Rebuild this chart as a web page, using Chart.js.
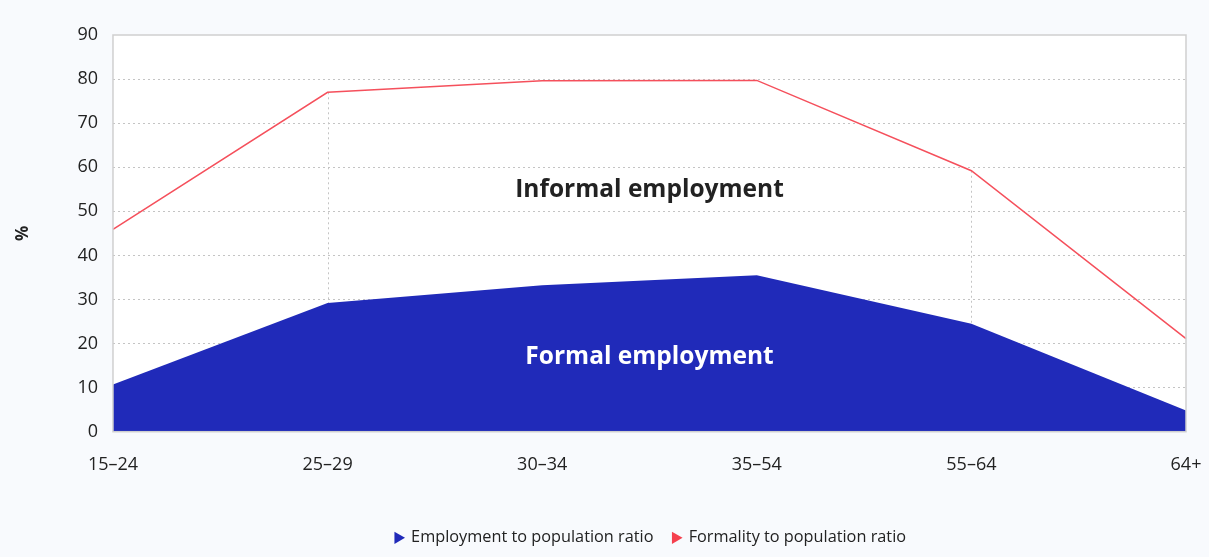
<!DOCTYPE html>
<html>
<head>
<meta charset="utf-8">
<script src="https://cdn.jsdelivr.net/npm/chart.js@4"></script>
<style>
    html, body { margin: 0; padding: 0; background: #f8fafd; }
    #wrap { width: 1209px; height: 557px; }
</style>
</head>
<body>
<div id="wrap"><canvas id="areaChart"></canvas></div>
<script>
const ageGroups = ['15–24', '25–29', '30–34', '35–54', '55–64', '64+'];
const employmentRatio = [10.7, 29.2, 33.2, 35.5, 24.5, 4.8];
const formalityRatio = [45.9, 77.0, 79.6, 79.7, 59.2, 21.1];
const yTicks = [0, 10, 20, 30, 40, 50, 60, 70, 80, 90];
const dropLineGroups = ['25–29', '55–64'];

// white plot area + grey frame round it
const plotFrame = {
    id: 'plotFrame',
    beforeDraw(chart) {
        const { ctx, chartArea: a } = chart;
        ctx.save();
        ctx.fillStyle = '#ffffff';
        ctx.fillRect(a.left, a.top, a.right - a.left, a.bottom - a.top);
        ctx.restore();
    },
    afterDraw(chart) {
        const { ctx, chartArea: a } = chart;
        ctx.save();
        ctx.strokeStyle = '#cfcfcf';
        ctx.lineWidth = 1.5;
        ctx.strokeRect(a.left, a.top, a.right - a.left, a.bottom - a.top);
        ctx.restore();
    }
};

// dotted drop lines from the red line down (blue area covers the lower part)
const dropLines = {
    id: 'dropLines',
    beforeDatasetsDraw(chart) {
        const { ctx, scales } = chart;
        ctx.save();
        ctx.strokeStyle = '#c4c4c4';
        ctx.lineWidth = 1;
        ctx.setLineDash([2, 3]);
        dropLineGroups.forEach(g => {
            const i = ageGroups.indexOf(g);
            const x = Math.round(scales.x.getPixelForValue(i)) + 0.5;
            ctx.beginPath();
            ctx.moveTo(x, scales.y.getPixelForValue(formalityRatio[i]));
            ctx.lineTo(x, scales.y.getPixelForValue(0));
            ctx.stroke();
        });
        ctx.restore();
    }
};

// the two labels inside the chart
const areaLabels = {
    id: 'areaLabels',
    afterDatasetsDraw(chart) {
        const { ctx, scales } = chart;
        const x = (scales.x.getPixelForValue(2) + scales.x.getPixelForValue(3)) / 2;
        ctx.save();
        ctx.font = 'bold 24.5px "Open Sans"';
        ctx.textAlign = 'center';
        ctx.textBaseline = 'middle';
        ctx.fillStyle = '#222222';
        ctx.fillText('Informal employment', x, scales.y.getPixelForValue(54.8));
        ctx.fillStyle = '#ffffff';
        ctx.fillText('Formal employment', x, scales.y.getPixelForValue(17));
        ctx.restore();
    }
};

new Chart(document.getElementById('areaChart'), {
    type: 'line',
    data: {
        labels: ageGroups,
        datasets: [
            {
                label: 'Employment to population ratio',
                data: employmentRatio,
                backgroundColor: '#202ab9',
                borderColor: '#202ab9',
                borderWidth: 0,
                fill: 'origin',
                pointRadius: 0,
                pointStyle: 'triangle',
                rotation: 90,
                order: 2
            },
            {
                label: 'Formality to population ratio',
                data: formalityRatio,
                borderColor: '#f5505c',
                backgroundColor: '#f5404e',
                borderWidth: 1.5,
                fill: false,
                pointRadius: 0,
                pointStyle: 'triangle',
                rotation: 90,
                order: 1
            }
        ]
    },
    options: {
        responsive: true,
        maintainAspectRatio: false,
        animation: false,
        layout: { padding: { left: 13, right: 23, top: 35, bottom: 1 } },
        plugins: {
            legend: {
                position: 'bottom',
                fullSize: false,
                labels: {
                    usePointStyle: true,
                    boxWidth: 10,
                    boxHeight: 10,
                    padding: 17,
                    color: '#222222',
                    font: { family: 'Open Sans', size: 16.3 },
                    sort: (a, b) => a.datasetIndex - b.datasetIndex,
                    generateLabels(chart) {
                        const items = Chart.defaults.plugins.legend.labels.generateLabels(chart);
                        items.forEach(it => { it.lineWidth = 0; it.strokeStyle = it.fillStyle; });
                        return items;
                    }
                }
            },
            tooltip: { enabled: false }
        },
        scales: {
            x: {
                offset: false,
                grid: { display: false },
                border: { display: false },
                ticks: {
                    padding: 14,
                    color: '#222222',
                    maxRotation: 0,
                    font: { family: 'Open Sans', size: 18 }
                },
                afterFit(scale) {
                    scale.height = 81;
                    scale.paddingRight = 0;
                    scale.paddingLeft = 0;
                }
            },
            y: {
                min: 0,
                max: 90,
                afterBuildTicks(scale) { scale.ticks = yTicks.map(v => ({ value: v })); },
                grid: {
                    drawTicks: false,
                    color: ctx => ctx.tick.value === 0 || ctx.tick.value === 90 ? 'rgba(0,0,0,0)' : '#c4c4c4',
                    lineWidth: 1
                },
                border: { display: false, dash: [2, 3] },
                ticks: {
                    padding: 15,
                    color: '#222222',
                    font: { family: 'Open Sans', size: 18 }
                },
                title: {
                    display: true,
                    text: '%',
                    color: '#222222',
                    padding: { top: 0, bottom: 29 },
                    font: { family: 'Open Sans', size: 17, weight: 'bold' }
                }
            }
        }
    },
    plugins: [plotFrame, dropLines, areaLabels]
});
</script>
</body>
</html>
